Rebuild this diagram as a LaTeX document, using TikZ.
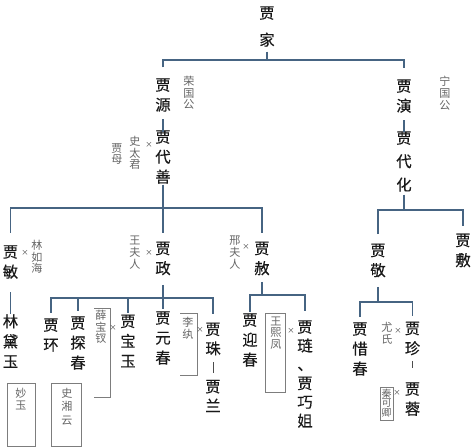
\documentclass[tikz,border=0pt]{standalone}
\usepackage{fontspec}
\newfontfamily\cjk{Noto Sans CJK SC}
\newfontfamily\cjkb{Noto Sans CJK SC}[FakeBold=0.4]
\definecolor{lineblue}{RGB}{70,100,130}
\definecolor{txtgray}{RGB}{100,100,100}
\definecolor{framegray}{RGB}{125,125,125}
\definecolor{txtblack}{RGB}{25,25,25}
\tikzset{
 blk/.style={font=\cjkb\fontsize{11.5}{#1}\selectfont, align=center, inner sep=1pt, text=txtblack},
 blk/.default=15pt,
 gry/.style={font=\cjk\fontsize{8.3}{#1}\selectfont, align=center, inner sep=0.5pt, text=txtgray},
 gry/.default=8.8pt,
 times/.style={font=\cjk\fontsize{5.5}{5.5}\selectfont, inner sep=0pt, text=black!75},
 link/.style={draw=lineblue, line width=1.1pt},
 frame/.style={draw=framegray, line width=0.5pt},
 tick/.style={draw=black!70, line width=0.7pt}
}
\begin{document}
\begin{tikzpicture}[x=0.75pt,y=-0.75pt]
\useasboundingbox (0,0) rectangle (474,447);
% bar levels
\coordinate (b0) at (0,60);
\coordinate (b1) at (0,208);
\coordinate (b2) at (0,210);
\coordinate (b3) at (0,298);
\coordinate (b4) at (0,295);
\coordinate (b5) at (0,302);

% main names
\node[blk=20.25pt] (jiajia) at (267,26.5) {贾\\家};
\node[blk] (yuan) at (163,95) {贾\\源};
\node[gry] (rgg) at (189,93) {荣\\国\\公};
\node[blk] (yan) at (404,96) {贾\\演};
\node[gry] (ngg) at (445,93) {宁\\国\\公};
\node[blk] (daishan) at (163,157) {贾\\代\\善};
\node[times] (x1) at (149,145) {×};
\node[gry] (stj) at (135,153) {史\\太\\君};
\node[gry] (jiamu) at (117,154) {贾\\母};
\node[blk=17.6pt] (daihua) at (404,161.5) {贾\\代\\化};

% second generation
\node[blk] (min) at (10.5,262) {贾\\敏};
\node[times] (x2) at (25,253) {×};
\node[gry] (lrh) at (37,257) {林\\如\\海};
\node[blk] (zheng) at (163,258.5) {贾\\政};
\node[times] (x3) at (149,253) {×};
\node[gry] (wfr) at (135,252.5) {王\\夫\\人};
\node[blk] (she) at (262,258.5) {贾\\赦};
\node[times] (x4) at (246,247) {×};
\node[gry] (xfr) at (235,252.5) {邢\\夫\\人};
\node[blk] (jing) at (378,260.5) {贾\\敬};
\node[blk] (fu) at (463,250.5) {贾\\敷};

% third generation
\node[blk] (daiyu) at (10.5,341) {林\\黛\\玉};
\draw[frame] (7,383) rectangle (35,446);
\node[gry=9pt] (miaoyu) at (21,399) {妙\\玉};
\draw[frame] (51,383) rectangle (81,446);
\node[gry=10pt] (sxy) at (67,406.5) {史\\湘\\云};

\node[blk] (huan) at (51,335) {贾\\环};
\node[blk] (tanchun) at (78,343) {贾\\探\\春};
\node[gry] (xbc) at (101,327) {薛\\宝\\钗};
\draw[frame] (94,308) -- (110,308) -- (110,397) -- (94,397);
\node[times] (x5) at (113,328) {×};
\node[blk] (baoyu) at (128,341) {贾\\宝\\玉};
\node[blk] (yuanchun) at (163,338) {贾\\元\\春};
\node[gry] (liwan) at (188,328) {李\\纨};
\draw[frame] (180,313) -- (197,313) -- (197,375) -- (180,375);
\node[times] (x6) at (200,330) {×};
\node[blk=14.5pt] (zhu) at (213,339) {贾\\珠};
\node[blk=14.5pt] (lan) at (213,396) {贾\\兰};

\node[blk] (yingchun) at (250,340) {贾\\迎\\春};
\draw[frame] (265,313) rectangle (285,392);
\node[gry] (wxf) at (276,333) {王\\熙\\凤};
\node[times] (x7) at (291,331) {×};
\node[blk=14.1pt] (lian) at (305,374) {贾\\琏\\、\\贾\\巧\\姐};

\node[blk] (xichun) at (360,349) {贾\\惜\\春};
\node[gry] (youshi) at (387,333) {尤\\氏};
\node[times] (x8) at (398,331) {×};
\node[blk] (zhen) at (412.5,338.5) {贾\\珍};
\draw[frame] (380,387) rectangle (393,420);
\node[gry, font=\cjk\fontsize{7.5}{7.3pt}\selectfont] (qkq) at (386.5,403) {秦\\可\\卿};
\node[times] (x9) at (397,393) {×};
\node[blk] (rong) at (412.5,399) {贾\\蓉};

% connectors
\draw[link, shorten <=2.5pt] (jiajia.south) -- (jiajia.south |- b0);
\draw[link, shorten <=7pt, shorten >=7pt] (yuan.north) |- (yan.north |- b0) -- (yan.north);
\draw[link, shorten <=4.5pt, shorten >=-2.5pt] (yuan.south) -- (daishan.north);
\draw[link, shorten <=4.5pt, shorten >=-2pt] (yan.south) -- (daihua.north);

\draw[link, shorten <=-0.5pt, shorten >=5.3pt] (daishan.south) -- (zheng.north);
\draw[link, shorten <=8.3pt, shorten >=5.3pt] (min.north) |- (she.north |- b1) -- (she.north);
\draw[link, shorten <=1pt] (daihua.south) -- (daihua.south |- b2);
\draw[link, shorten <=6pt, shorten >=4.5pt] (jing.north) |- (fu.north |- b2) -- (fu.north);

\draw[link, shorten <=9pt, shorten >=-1.2pt] (min.south) -- (daiyu.north);

\draw[link, shorten <=6pt] (zheng.south) -- (zheng.south |- b3);
\draw[link, shorten <=3pt, shorten >=5pt] (huan.north) |- (zhu.north |- b3) -- (zhu.north);
\draw[link, shorten <=3pt] (tanchun.north) -- (tanchun.north |- b3);
\draw[link, shorten <=0pt] (baoyu.north) -- (baoyu.north |- b3);
\draw[link, shorten <=0.8pt] (yuanchun.north) -- (yuanchun.north |- b3);

\draw[link, shorten <=3.8pt] (she.south) -- (she.south |- b4);
\draw[link, shorten >=6pt] (yingchun.north) |- (lian.north |- b4) -- (lian.north);

\draw[link, shorten <=6pt] (jing.south) -- (jing.south |- b5);
\draw[link, shorten <=3pt, shorten >=3pt] (xichun.north) |- (zhen.north |- b5) -- (zhen.north);

\draw[tick, shorten <=3pt, shorten >=9.8pt] (zhen.south) -- (rong.north);
\draw[tick, shorten <=3.9pt, shorten >=4.3pt] (zhu.south) -- (lan.north);
\end{tikzpicture}
\end{document}
